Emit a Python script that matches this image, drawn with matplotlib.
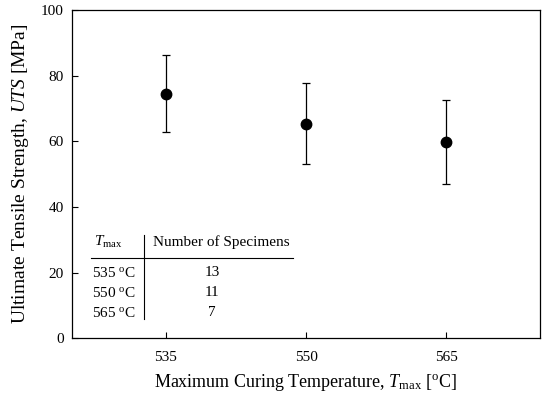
import matplotlib.pyplot as plt

plt.rcParams['font.family'] = ['Liberation Serif', 'DejaVu Serif']
plt.rcParams['mathtext.fontset'] = 'custom'
plt.rcParams['mathtext.rm'] = 'Liberation Serif'
plt.rcParams['mathtext.it'] = 'Liberation Serif:italic'

# data
temps = [535, 550, 565]
uts_mean = [74.5, 65.4, 59.8]
uts_err = [11.7, 12.4, 12.8]
table_rows = ["535 $^{\\rm o}$C", "550 $^{\\rm o}$C", "565 $^{\\rm o}$C"]
n_specimens = ["13", "11", "7"]

fig = plt.figure(figsize=(5.45, 4.05), dpi=100)
ax = fig.add_axes([0.132, 0.165, 0.859, 0.81])

ax.errorbar(temps, uts_mean, yerr=uts_err, fmt='o', color='black',
            markersize=7.5, capsize=3, elinewidth=0.9, capthick=0.9)

ax.set_xlim(525, 575)
ax.set_ylim(0, 100)
ax.set_xticks(temps)
ax.set_yticks(range(0, 101, 20))
ax.tick_params(direction='in', length=4, width=0.8, labelsize=11)
ax.tick_params(axis='x', pad=9)
ax.tick_params(axis='y', pad=6)
for s in ax.spines.values():
    s.set_linewidth(0.9)

ax.set_xlabel("Maximum Curing Temperature, $T_{\\rm max}$ [$^{\\rm o}$C]",
              fontsize=13, labelpad=6)
ax.set_ylabel("Ultimate Tensile Strength, $UTS$ [MPa]", fontsize=14, labelpad=7)

# inset table
tr = ax.transAxes
ax.text(0.077, 0.293, "$T_{\\rm max}$", transform=tr, ha='center', va='center', fontsize=11)
ax.text(0.318, 0.293, "Number of Specimens", transform=tr, ha='center', va='center', fontsize=11)
ax.plot([0.041, 0.473], [0.243, 0.243], transform=tr, color='black', lw=0.8)
ax.plot([0.154, 0.154], [0.058, 0.313], transform=tr, color='black', lw=0.8)
row_y = [0.2, 0.139, 0.078]
for lab, n, y in zip(table_rows, n_specimens, row_y):
    ax.text(0.136, y, lab, transform=tr, ha='right', va='center', fontsize=11)
    ax.text(0.299, y, n, transform=tr, ha='center', va='center', fontsize=11)

fig.savefig("out.png", dpi=100)
